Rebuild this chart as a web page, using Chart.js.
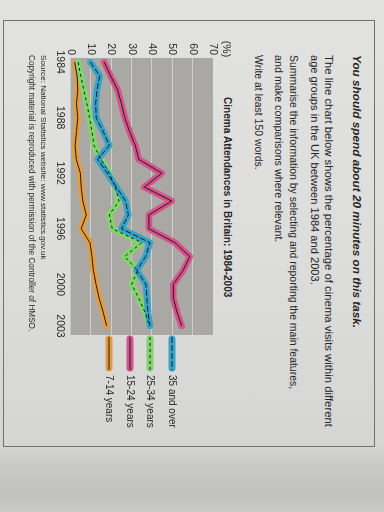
<!DOCTYPE html>
<html>
<head>
<meta charset="utf-8">
<script src="https://cdn.jsdelivr.net/npm/chart.js@4.4.1/dist/chart.umd.min.js"></script>
<style>
html,body{margin:0;padding:0;}
body{width:384px;height:512px;overflow:hidden;position:relative;
 background:linear-gradient(to bottom,#e2e2e0 0px,#dcdcda 280px,#d5d5d3 445px,#cbcbc9 462px,#c1c1bf 490px,#c9c9c7 512px);
 font-family:'Liberation Sans',Arial,sans-serif;color:#262626;}
#page{position:absolute;left:0;top:0;width:512px;height:384px;transform-origin:0 0;transform:translate(384px,0) rotate(90deg);}
#box{position:absolute;left:20px;top:9px;width:427px;height:372px;border:1px solid #707070;box-sizing:border-box;}
.t{position:absolute;white-space:nowrap;transform:translateY(-50%);line-height:1;font-size:10px;}
.b{font-weight:bold;}
.bi{font-weight:bold;font-style:italic;}
#cv{position:absolute;left:0;top:150px;}
</style>
</head>
<body>
<div id="page">
  <div id="box"></div>
  <div class="t bi" style="left:55px;top:27px" data-w="273">You should spend about 20 minutes on this task.</div>
  <div class="t" style="left:55px;top:56px" data-w="372">The line chart below shows the percentage of cinema visits within different</div>
  <div class="t" style="left:55px;top:70px" data-w="230">age groups in the UK between 1984 and 2003.</div>
  <div class="t" style="left:55px;top:91px" data-w="335">Summarise the information by selecting and reporting the main features,</div>
  <div class="t" style="left:55px;top:105px" data-w="188">and make comparisons where relevant.</div>
  <div class="t" style="left:55px;top:126px" data-w="115">Write at least 150 words.</div>
  <div class="t b" style="left:97px;top:157px" data-w="201">Cinema Attendances in Britain: 1984-2003</div>
  <canvas id="cv" width="512" height="190"></canvas>
  <div class="t" style="left:55px;top:341px" data-w="205">Source: National Statistics website: www.statistics.gov.uk</div>
  <div class="t" style="left:55px;top:353px" data-w="277">Copyright material is reproduced with permission of the Controller of HMSO.</div>
</div>
<script>
// ---- data ----
const years = [1984,1985,1986,1987,1988,1989,1990,1991,1992,1993,1994,1995,1996,1997,1998,1999,2000,2001,2002,2003];
const yearTicks = [1984,1988,1992,1996,2000,2003];
const valueTicks = [0,10,20,30,40,50,60,70];
const unitLabel = '(%)';
const seriesLabels = ['35 and over','25-34 years','15-24 years','7-14 years'];
const over35   = [9.7,14.3,13,12.3,12.6,16,19,13.3,18,22.5,27,28.4,25,39,36.9,32.5,37,37.5,38,39];
const age25_34 = [3.7,5,6.5,8,9.3,10.5,11.5,15,19,22,23.8,19,20.5,35,26.5,33,30,33.5,36.5,39];
const age15_24 = [16.5,19.7,23.1,25,26.6,29,31.8,33.5,44.8,36.2,49.7,38.5,38.5,51.3,58.6,55.3,50.5,50.5,52.3,54.6];
const age7_14  = [2,3.2,3.5,2.9,3.5,2.9,2.2,2.8,4.8,5.2,6,7.7,5.2,9.5,10.5,11.2,12.5,14,16,17.7];

// ---- fit text lines ----
document.querySelectorAll('.t').forEach(el=>{
  const w = +el.dataset.w;
  const fs = parseFloat(getComputedStyle(el).fontSize);
  el.style.fontSize = (fs * w / el.offsetWidth) + 'px';
});

const FONT = "'Liberation Sans', Arial, sans-serif";
const series = [
  {label:seriesLabels[0], data:over35,   color:'#36a3c8', dash:[6,2]},
  {label:seriesLabels[1], data:age25_34, color:'#80d46c', dash:[3,3]},
  {label:seriesLabels[2], data:age15_24, color:'#d7528b', dash:[]},
  {label:seriesLabels[3], data:age7_14,  color:'#e39c40', dash:[]}
];
const legendRows = [41,63,83,104];

const datasets = [];
series.forEach(s=>{
  const pts = years.map((y,i)=>({x:y,y:s.data[i]}));
  datasets.push({label:s.label+' hl', data:pts, borderColor:s.color, borderWidth:6.5, pointRadius:0,
    borderCapStyle:'round', borderJoinStyle:'round', tension:0, order:1, fill:false});
  datasets.push({label:s.label, data:pts, borderColor:'#1c1c1c', borderWidth:1, borderDash:s.dash,
    pointRadius:0, tension:0, order:0, fill:false});
});

const bgPlugin = {
  id:'bg',
  beforeDraw(c){
    const {ctx, chartArea:a} = c;
    ctx.save();
    ctx.fillStyle = '#a9a8a4';
    ctx.fillRect(a.left, a.top, a.right-a.left, a.bottom-a.top);
    ctx.restore();
  },
  afterDraw(c){
    const {ctx, chartArea:a} = c;
    ctx.save();
    ctx.font = '10.5px ' + FONT;
    ctx.fillStyle = '#262626';
    ctx.textAlign = 'center';
    ctx.textBaseline = 'middle';
    ctx.fillText(unitLabel, a.left-9, a.top-13);
    ctx.textAlign = 'left';
    ctx.font = '10px ' + FONT;
    series.forEach((s,i)=>{
      const y = a.top + legendRows[i];
      ctx.setLineDash([]);
      ctx.strokeStyle = s.color; ctx.lineWidth = 7; ctx.lineCap = 'round';
      ctx.beginPath(); ctx.moveTo(a.right+4, y); ctx.lineTo(a.right+33, y); ctx.stroke();
      ctx.strokeStyle = '#1c1c1c'; ctx.lineWidth = 1; ctx.lineCap = 'butt';
      ctx.setLineDash(s.dash);
      ctx.beginPath(); ctx.moveTo(a.right+2, y); ctx.lineTo(a.right+35, y); ctx.stroke();
      ctx.setLineDash([]);
      ctx.fillText(s.label, a.right+40, y+0.5);
    });
    ctx.restore();
  }
};

new Chart(document.getElementById('cv'), {
  type:'line',
  data:{datasets},
  options:{
    responsive:false, animation:false, devicePixelRatio:1,
    layout:{padding:{left:0, top:21, right:177, bottom:0}},
    plugins:{legend:{display:false}, tooltip:{enabled:false}, title:{display:false}},
    scales:{
      x:{type:'linear', min:1983.7, max:2003.65,
        afterBuildTicks:s=>{ s.ticks = yearTicks.map(v=>({value:v})); },
        afterFit:s=>{ s.height = 26.6; },
        grid:{display:false, drawTicks:false}, border:{display:false},
        ticks:{padding:4, color:'#262626', font:{family:FONT, size:10.5}, maxRotation:0, autoSkip:false,
          callback:v=>String(v)}},
      y:{min:0, max:70,
        afterBuildTicks:s=>{ s.ticks = valueTicks.map(v=>({value:v})); },
        afterFit:s=>{ s.width = 58; },
        grid:{color:c=>(c.tick && (c.tick.value===0 || c.tick.value===70)) ? 'rgba(0,0,0,0)' : '#d0cfcb', lineWidth:1, drawTicks:false},
        border:{display:false},
        ticks:{padding:3, color:'#262626', font:{family:FONT, size:10.5}, callback:v=>String(v)}}
    }
  },
  plugins:[bgPlugin]
});
</script>
</body>
</html>
